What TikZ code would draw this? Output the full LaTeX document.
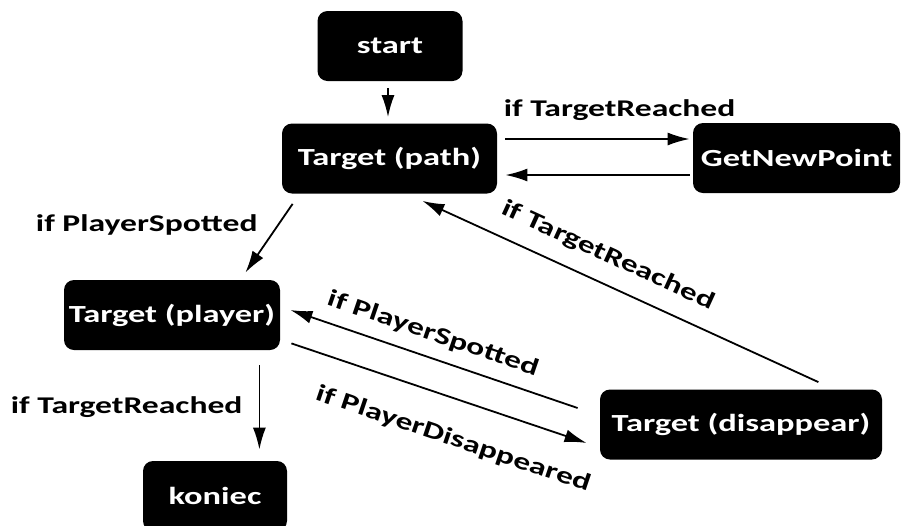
\documentclass[tikz,border=0pt]{standalone}
\usepackage{fontspec}
\newfontfamily\diagfont[FakeStretch=1.4]{Carlito}
\usetikzlibrary{arrows.meta}

\begin{document}
\begin{tikzpicture}[x=0.5pt,y=0.5pt,
   every node/.style={font=\diagfont\bfseries\fontsize{12}{14}\selectfont},
   state/.style={fill=black,text=white,rounded corners=5pt,inner sep=0pt,minimum height=35pt,
      font=\diagfont\bfseries\fontsize{12.3}{14}\selectfont},
   arr/.style={-{Latex[length=11pt,width=6.5pt]},line width=0.9pt},
   lbl/.style={inner sep=0pt}]
\useasboundingbox (0,0) rectangle (902,-526);
\node[state,minimum width=72.5pt] (start) at (390,-46) {start};
\node[state,minimum width=107.5pt] (tpath) at (389.5,-158.5) {Target (path)};
\node[state,minimum width=103.5pt] (newpt) at (796.5,-158) {GetNewPoint};
\node[state,minimum width=108pt] (tplayer) at (172,-315) {Target (player)};
\node[state,minimum width=72pt] (koniec) at (215,-496) {koniec};
\node[state,minimum width=141pt] (tdis) at (741,-424.5) {Target (disappear)};

\draw[arr] ([shift={(-2,-7)}]start.south) -- ([shift={(-1.5,6)}]tpath.north);
\draw[arr] ([shift={(8,19.5)}]tpath.east) -- node[lbl,above=9pt,pos=0.62] {if TargetReached} ([shift={(-3,19)}]newpt.west);
\draw[arr] ([shift={(-3,-17)}]newpt.west) -- ([shift={(8,-16.5)}]tpath.east);
\draw[arr] ([shift={(11,-10)}]tpath.south west) -- node[lbl,pos=0.3,left=10pt] {if PlayerSpotted} ([shift={(-35,7)}]tplayer.north east);
\draw[arr] ([shift={(-21,-15)}]tplayer.south east) -- node[lbl,left=8pt] {if TargetReached} ([shift={(-28,11)}]koniec.north east);
\draw[arr] ([shift={(-64,7)}]tdis.north east) -- node[lbl,sloped,pos=0.56,above=8pt] {if TargetReached} ([shift={(-75,-7)}]tpath.south east);
\draw[arr] ([shift={(-22,16.5)}]tdis.west) -- node[lbl,sloped,pos=0.53,above=6pt] {if PlayerSpotted} ([shift={(10,5)}]tplayer.east);
\draw[arr] ([shift={(11,7)}]tplayer.south east) -- node[lbl,sloped,pos=0.59,below=14pt] {if PlayerDisappeared} ([shift={(-13,-18.5)}]tdis.west);
\end{tikzpicture}
\end{document}
